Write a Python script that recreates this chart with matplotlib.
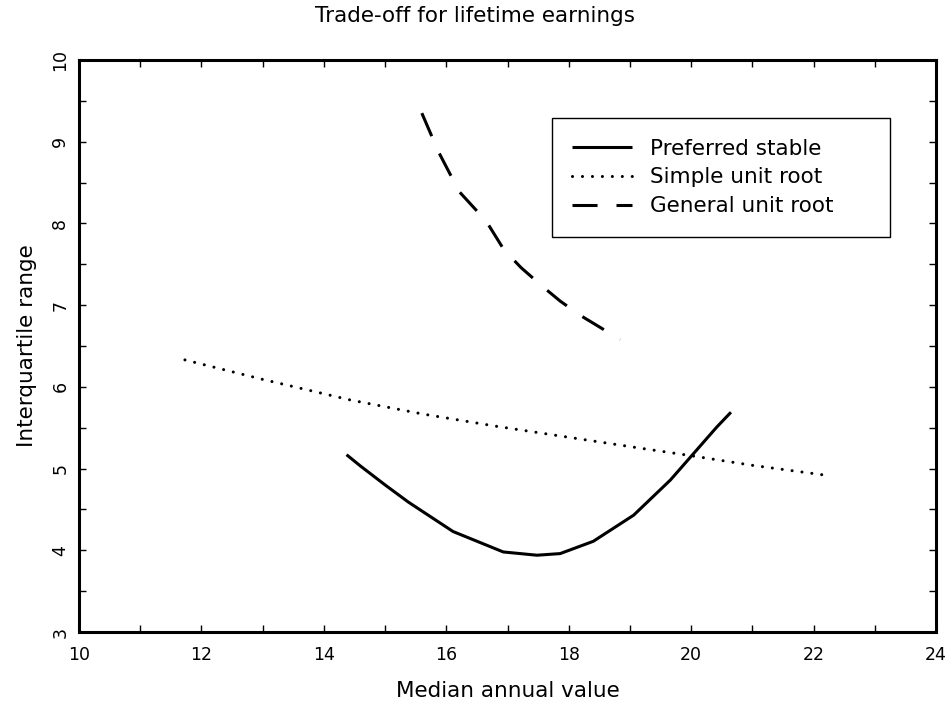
import matplotlib
matplotlib.use('Agg')
import matplotlib.pyplot as plt
from matplotlib.ticker import MultipleLocator

# ----- Curves: median annual value vs interquartile range -----
stable_x = [14.37, 14.60, 15.00, 15.38, 16.11, 16.93, 17.48, 17.86, 18.40, 19.06, 19.66, 20.42, 20.65]
stable_y = [5.17, 5.03, 4.80, 4.59, 4.23, 3.98, 3.94, 3.96, 4.11, 4.43, 4.86, 5.51, 5.69]

simple_x = [11.73, 13.01, 14.43, 15.60, 16.80, 19.17, 19.98, 21.00, 22.19]
simple_y = [6.33, 6.09, 5.84, 5.67, 5.52, 5.25, 5.16, 5.04, 4.92]

general_x = [15.60, 15.87, 16.21, 16.65, 16.94, 17.22, 17.57, 17.86, 18.20, 18.84]
general_y = [9.35, 8.88, 8.39, 8.03, 7.68, 7.46, 7.23, 7.05, 6.87, 6.58]

labels = ['Preferred stable', 'Simple unit root', 'General unit root']
title = 'Trade-off for lifetime earnings'
xlabel = 'Median annual value'
ylabel = 'Interquartile range'

plt.rcParams['font.family'] = ['DejaVu Sans']

fig = plt.figure(figsize=(9.5, 7.08), dpi=100)
ax = fig.add_axes([0.0832, 0.1073, 0.9021, 0.8079])

# dash patterns are in multiples of the linewidth
lw = 2.2
ax.plot(stable_x, stable_y, color='black', lw=lw, solid_capstyle='butt', label=labels[0])
ax.plot(simple_x, simple_y, color='black', lw=lw, linestyle=(0, (0.01, 3.25)),
        dash_capstyle='round', label=labels[1])
ax.plot(general_x, general_y, color='black', lw=lw, linestyle=(0, (8.2, 6.2)),
        dash_capstyle='butt', label=labels[2])

ax.set_xlim(10, 24)
ax.set_ylim(3, 10)
ax.xaxis.set_major_locator(MultipleLocator(2))
ax.xaxis.set_minor_locator(MultipleLocator(1))
ax.yaxis.set_major_locator(MultipleLocator(1))
ax.yaxis.set_minor_locator(MultipleLocator(0.5))
ax.tick_params(which='both', direction='in', top=True, right=True,
               length=5, width=1.0, labelsize=12.5)
ax.tick_params(axis='x', pad=10)
ax.tick_params(axis='y', pad=7)
for lab in ax.get_yticklabels():
    lab.set_rotation(90)
    lab.set_va('center')
for s in ax.spines.values():
    s.set_linewidth(2.2)

ax.set_xlabel(xlabel, fontsize=15.5, labelpad=12)
ax.set_ylabel(ylabel, fontsize=15.5, labelpad=10)
fig.text(0.5, 0.978, title, ha='center', va='center', fontsize=15.5)

# legend box spans a fixed width; top edge sits at y = 0.898 in axes units
leg = ax.legend(loc='upper left', bbox_to_anchor=(0.5516, 0.798, 0.3948, 0.1), mode='expand',
                borderaxespad=0, fancybox=False, framealpha=1, edgecolor='black', fontsize=15.5,
                handlelength=2.8, handletextpad=0.8, borderpad=0.95, labelspacing=0.4)
leg.get_frame().set_linewidth(1.0)

fig.savefig('out.png', dpi=100)
